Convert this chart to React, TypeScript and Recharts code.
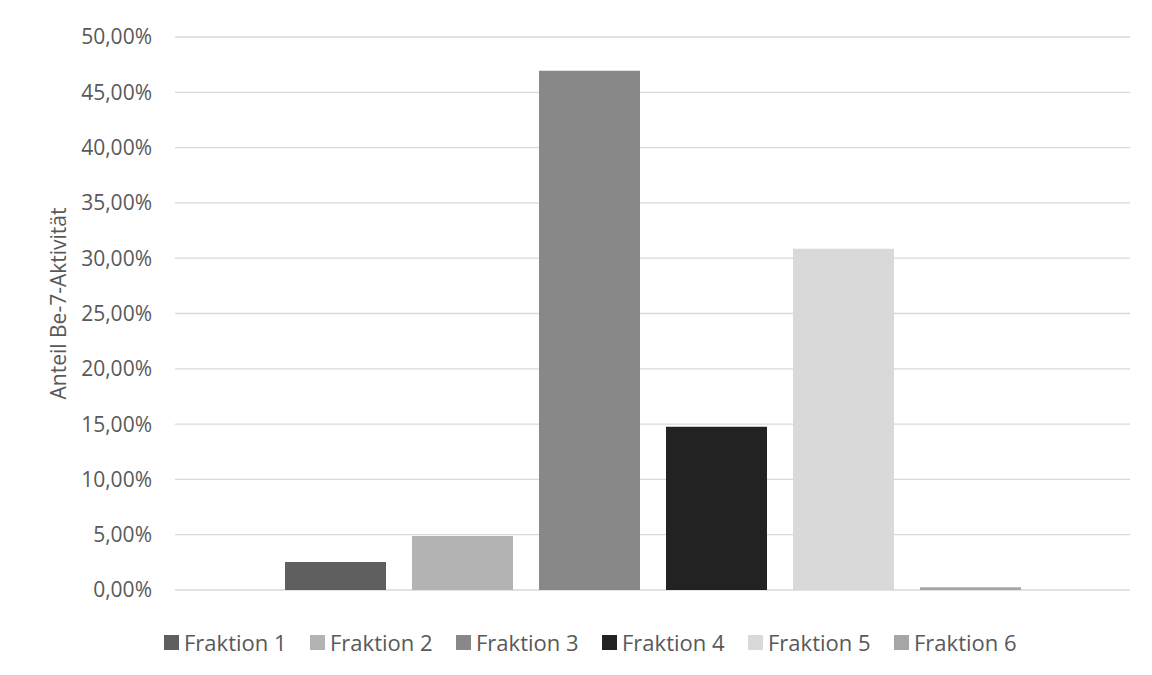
import React from 'react';
import { BarChart, Bar, XAxis, YAxis, CartesianGrid, Label } from 'recharts';

const categories = ['Probe'];
const seriesNames = ['Fraktion 1', 'Fraktion 2', 'Fraktion 3', 'Fraktion 4', 'Fraktion 5', 'Fraktion 6'];
const seriesValues = [0.0253, 0.0489, 0.4695, 0.1475, 0.3085, 0.0025];
const seriesColors = ['#5f5f5f', '#b3b3b3', '#888888', '#222222', '#d9d9d9', '#a6a6a6'];
const yTicks = [0, 0.05, 0.1, 0.15, 0.2, 0.25, 0.3, 0.35, 0.4, 0.45, 0.5];
const yTitle = 'Anteil Be-7-Aktivität';

const data = categories.map((c) => {
  const row: Record<string, any> = { name: c };
  seriesNames.forEach((s, i) => {
    row[s] = seriesValues[i];
  });
  return row;
});

const FONT = '"Open Sans", "Noto Sans", sans-serif';
const TEXT = '#595959';

const fmt = (v: number) => (v * 100).toFixed(2).replace('.', ',') + '%';

const TitleLabel = (props: any) => {
  const vb = props.viewBox || { x: 0, y: 0, width: 0, height: 0 };
  const cx = vb.x + 50;
  const cy = vb.y + vb.height / 2 - 10;
  return (
    <text
      x={cx}
      y={cy}
      transform={`rotate(-90, ${cx}, ${cy})`}
      textAnchor="middle"
      dominantBaseline="central"
      fill={TEXT}
      fontSize={21}
      fontFamily={FONT}
    >
      {yTitle}
    </text>
  );
};

export default function App() {
  return (
    <div
      style={{
        position: 'relative',
        marginLeft: -1,
        marginTop: -1,
        width: 1144,
        height: 667,
        borderLeft: '1px solid #d9d9d9',
        borderTop: '1px solid #d9d9d9',
        background: '#fff',
      }}
    >
      <BarChart
        width={1144}
        height={667}
        data={data}
        margin={{ top: 29, right: 22, bottom: 85, left: 0 }}
        barGap={26}
        barCategoryGap={109}
      >
        <CartesianGrid vertical={false} stroke="#d9d9d9" strokeWidth={1.3} />
        <XAxis dataKey="name" hide />
        <YAxis
          width={167}
          domain={[0, 0.5]}
          ticks={yTicks}
          tickFormatter={fmt}
          axisLine={false}
          tickLine={false}
          tickSize={0}
          tickMargin={23}
          interval={0}
          tick={{ fill: TEXT, fontSize: 21, fontFamily: FONT }}
        >
          <Label content={TitleLabel} />
        </YAxis>
        {seriesNames.map((s, i) => (
          <Bar key={s} dataKey={s} fill={seriesColors[i]} barSize={101} isAnimationActive={false} />
        ))}
      </BarChart>
      <div
        style={{
          position: 'absolute',
          left: 156,
          top: 623,
          height: 22,
          display: 'flex',
          alignItems: 'center',
          fontFamily: FONT,
          fontSize: 22,
          color: TEXT,
        }}
      >
        {seriesNames.map((s, i) => (
          <div key={s} style={{ width: 146, display: 'flex', alignItems: 'center', flex: 'none' }}>
            <span
              style={{
                width: 15,
                height: 15,
                background: seriesColors[i],
                display: 'inline-block',
                marginRight: 5,
                flex: 'none',
              }}
            />
            <span style={{ lineHeight: '22px', whiteSpace: 'nowrap' }}>{s}</span>
          </div>
        ))}
      </div>
    </div>
  );
}
